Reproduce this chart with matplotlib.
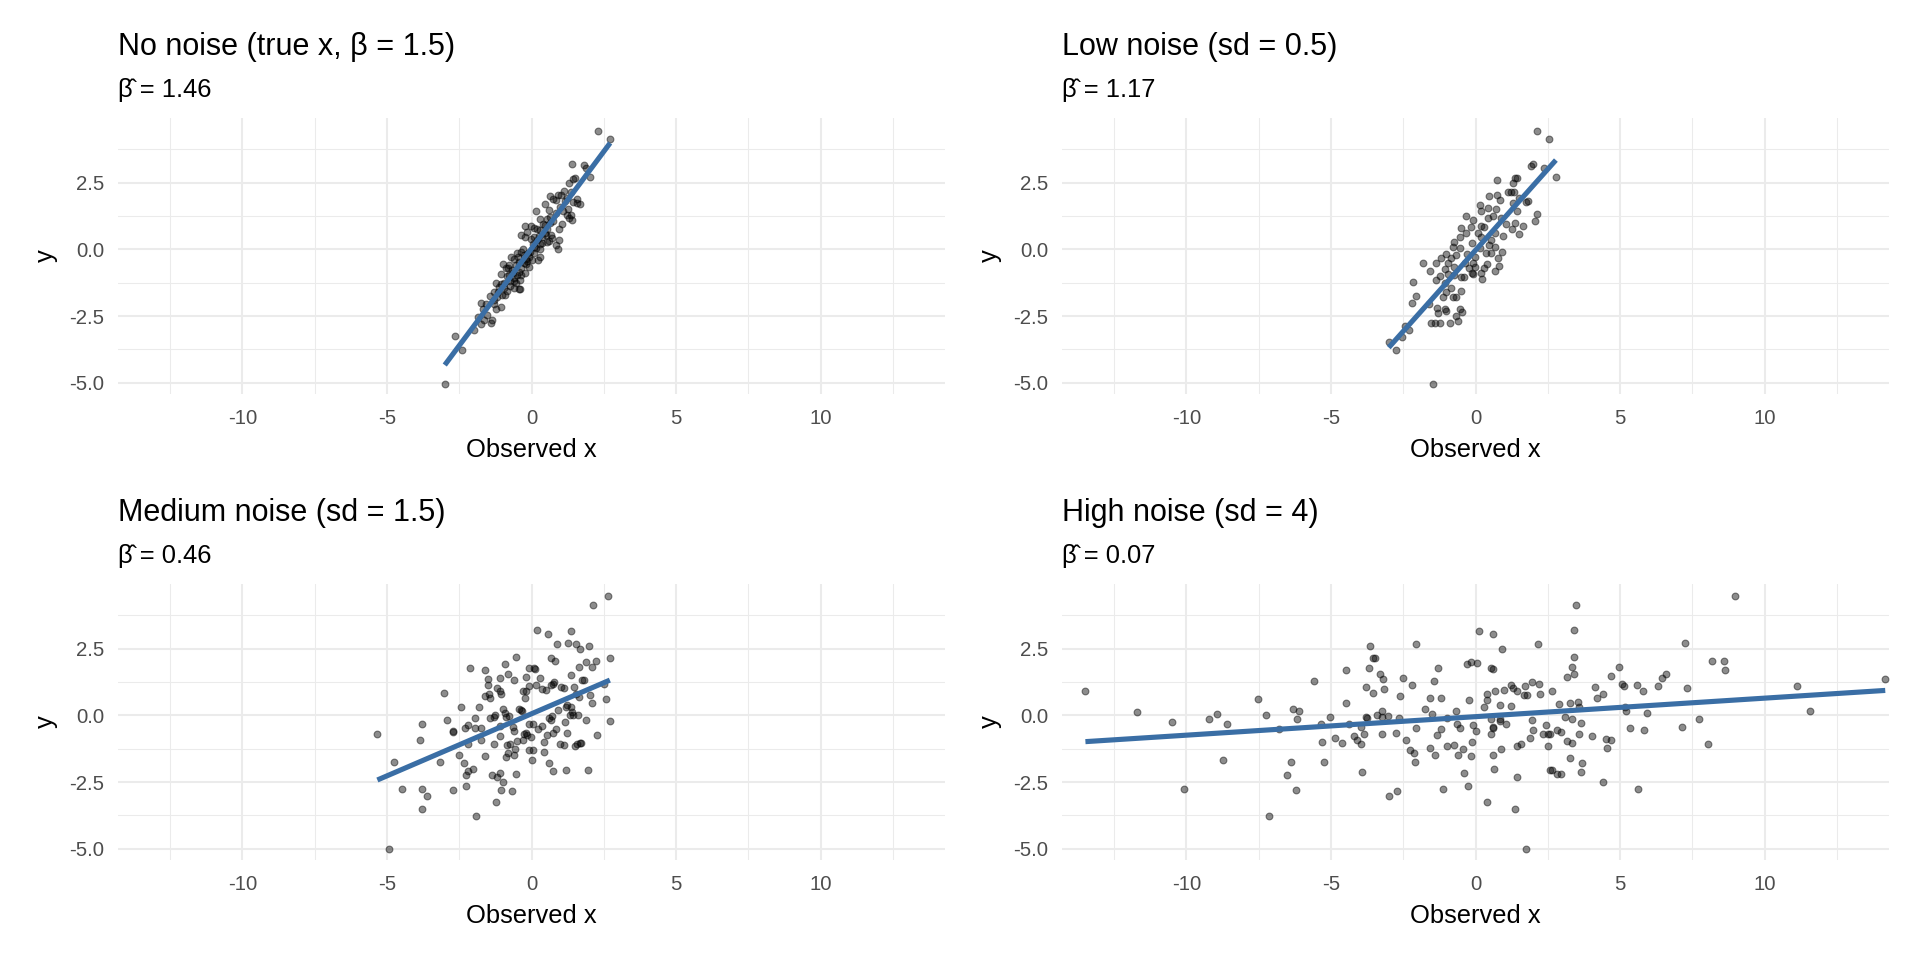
import numpy as np
import matplotlib
matplotlib.use("Agg")
from matplotlib import pyplot as plt
from matplotlib.ticker import MultipleLocator

plt.rcParams['font.family'] = ['Liberation Sans', 'DejaVu Sans']

titles = ["No noise (true x, \u03b2 = 1.5)", "Low noise (sd = 0.5)",
          "Medium noise (sd = 1.5)", "High noise (sd = 4)"]
beta_hat = ["1.46", "1.17", "0.46", "0.07"]

# points, (observed x, y)
pts_none = [
    (2.29, 4.45), (2.72, 4.14), (1.41, 3.2), (1.83, 3.15), (1.89, 3.03), (2.04, 2.7),
    (1.51, 2.69), (1.42, 2.64), (1.29, 2.5), (1.35, 2.16), (1.12, 2.19), (1.03, 2.04),
    (0.90, 2.03), (0.65, 1.98), (0.74, 1.88), (0.83, 1.83), (1.24, 1.93), (1.45, 1.78),
    (1.56, 1.9), (1.69, 1.71), (1.59, 1.73), (0.45, 1.69), (0.15, 1.45), (0.60, 1.49),
    (1.27, 1.5), (1.24, 1.29), (1.35, 1.29), (1.29, 1.16), (1.41, 1.08), (1.05, 0.95),
    (0.31, 1.14), (0.54, 1.13), (0.63, 0.98), (-0.21, 0.89), (-0.03, 0.89), (0.08, 0.79),
    (0.29, 0.73), (0.45, 0.63), (0.66, 0.54), (0.94, 0.35), (0.92, 0.01), (-0.24, 0.48),
    (-0.03, 0.38), (0.20, 0.35), (0.37, 0.23), (0.08, 0.1), (0.31, 0.01), (-0.29, 0.01),
    (-0.50, -0.15), (-0.38, -0.09), (-0.13, -0.15), (0.08, -0.15), (0.22, -0.4), (-0.70, -0.28),
    (-0.61, -0.38), (-0.44, -0.46), (-0.26, -0.53), (-0.09, -0.65), (-1.00, -0.55), (-0.78, -0.59),
    (-0.89, -0.71), (-0.67, -0.78), (-0.44, -0.84), (-0.21, -0.9), (-1.07, -0.93), (-0.78, -0.96),
    (-0.61, -1.09), (-0.40, -1.15), (-1.24, -1.28), (-0.96, -1.28), (-0.73, -1.38), (-0.59, -1.44),
    (-0.41, -1.5), (-1.12, -1.43), (-0.84, -1.55), (-1.01, -1.71), (-1.19, -1.78), (-1.45, -1.75),
    (-1.74, -2.0), (-1.59, -2.05), (-1.30, -2.03), (-1.04, -2.16), (-1.24, -2.24), (-1.67, -2.25),
    (-1.53, -2.46), (-1.36, -2.65), (-1.41, -2.75), (-1.74, -2.81), (-1.99, -3.03), (-2.65, -3.26),
    (-2.42, -3.78), (-3.0, -5.03), (-0.38, 0.54), (-0.15, 0.66), (0.54, 0.29), (0.71, 0.41),
    (0.83, 0.16), (0.31, -0.28), (-0.20, -0.38), (-0.43, -1.49), (-0.52, -1.25), (-1.30, -1.59),
    (-1.84, -2.53), (-1.65, -2.65), (-0.55, -0.6), (-0.45, -0.3), (-0.35, -0.7), (-0.25, -0.2),
    (-0.15, -0.45), (-0.05, -0.1), (0.05, 0.2), (0.15, 0.05), (0.25, 0.5), (0.35, 0.45),
    (0.45, 0.9), (0.55, 0.75), (0.65, 1.2), (0.75, 1.05), (-0.65, -0.9), (-0.75, -1.2),
    (-0.85, -1.0), (-0.95, -1.45), (-1.05, -1.3), (-1.15, -1.6), (-0.35, -0.95), (-0.1, -0.3),
    (0.1, 0.45), (0.3, 0.2), (0.5, 0.55), (0.85, 1.35), (1.0, 1.6), (1.1, 1.45),
    (-0.6, -1.2), (-0.2, -0.55), (0.0, -0.4), (0.2, 0.75), (0.4, 0.95), (-0.5, -0.95),
    (-0.8, -0.7), (-1.3, -1.9), (-0.9, -1.7), (0.6, 0.3), (0.95, 0.75), (1.15, 1.8),
]

pts_low = [
    (2.14, 4.45), (2.53, 4.14), (1.92, 3.14), (2.00, 3.2), (2.36, 3.06), (2.78, 2.7),
    (0.75, 2.6), (1.30, 2.48), (1.35, 2.68), (1.44, 2.69), (1.12, 2.13), (1.23, 2.15),
    (1.32, 2.16), (0.45, 2.01), (0.74, 2.04), (0.83, 1.85), (1.52, 1.94), (1.29, 1.75),
    (1.75, 1.79), (1.83, 1.81), (0.15, 1.66), (0.43, 1.54), (0.71, 1.51), (1.43, 1.44),
    (0.18, 1.44), (2.11, 1.34), (2.06, 1.05), (-0.32, 1.23), (-0.10, 1.1), (0.43, 1.16),
    (0.60, 1.23), (0.89, 1.16), (1.06, 0.94), (1.37, 0.98), (1.63, 0.89), (-0.50, 0.8),
    (-0.17, 0.83), (0.20, 0.88), (1.27, 0.75), (1.50, 0.58), (0.94, 0.5), (-0.55, 0.48),
    (-0.76, 0.26), (0.20, 0.48), (0.54, 0.35), (-0.78, 0.1), (-0.52, 0.04), (-0.12, 0.23),
    (0.14, 0.04), (0.46, 0.16), (0.69, 0.1), (0.91, -0.09), (-1.19, -0.31), (-1.01, -0.18),
    (-0.84, -0.34), (-0.67, -0.21), (-0.29, -0.18), (-0.03, -0.28), (-1.80, -0.5), (-1.36, -0.5),
    (-0.96, -0.53), (-0.75, -0.65), (-0.38, -0.53), (-0.09, -0.53), (0.40, -0.56), (0.77, -0.34),
    (0.80, -0.61), (-1.56, -0.81), (-1.24, -0.99), (-0.96, -0.93), (-0.50, -1.03), (-0.13, -0.9),
    (0.20, -0.88), (0.66, -0.8), (-2.17, -1.21), (-1.38, -1.15), (-1.07, -1.28), (-0.40, -1.03),
    (-0.09, -0.93), (0.23, -1.1), (-0.86, -1.44), (-1.03, -1.59), (-0.78, -1.78), (-0.67, -1.78),
    (-0.50, -1.55), (-2.05, -1.75), (-2.19, -2.0), (-1.61, -2.06), (-1.34, -2.21), (-1.04, -2.24),
    (-1.01, -2.3), (-0.52, -2.23), (-0.47, -2.34), (-0.69, -2.5), (-0.59, -2.68), (-0.88, -2.75),
    (-1.53, -2.75), (-1.39, -2.75), (-1.24, -2.75), (-2.45, -2.86), (-2.30, -3.03), (-2.53, -3.28),
    (-3.0, -3.49), (-2.74, -3.78), (-1.47, -5.03), (0.31, 0.85), (0.66, 0.6), (0.08, 0.6),
    (-0.32, 0.6), (0.37, -0.15), (0.54, -0.15), (-0.01, -0.65), (0.31, -0.71), (-0.21, -0.71),
    (-1.04, -0.75), (-0.73, -0.96), (-1.13, -1.78), (-1.30, -2.4),
]

pts_med = [
    (-5.33, -0.7), (-4.92, -5.0), (-4.75, -1.75), (-4.47, -2.75), (-3.79, -0.31), (-3.87, -0.93),
    (-3.77, -2.75), (-3.63, -3.03), (-3.79, -3.5), (-3.17, -1.73), (-3.02, 0.84), (-2.93, -0.19),
    (-2.72, -0.63), (-2.70, -0.6), (-2.71, -2.78), (-2.51, -1.49), (-2.45, 0.31), (-2.34, -1.78),
    (-2.27, -2.25), (-2.21, -2.1), (-2.28, -2.66), (-2.29, -0.48), (-2.20, -0.38), (-2.18, -1.06),
    (-2.13, 1.78), (-2.02, -2.0), (-1.97, -0.1), (-1.96, -0.48), (-1.91, -3.78), (-1.80, 0.31),
    (-1.75, -0.48), (-1.74, -0.91), (-1.61, -1.53), (-1.60, 1.69), (-1.60, 0.74), (-1.51, 1.36),
    (-1.51, 1.14), (-1.46, 0.8), (-1.42, 0.66), (-1.42, -0.1), (-1.36, -2.23), (-1.31, -0.06),
    (-1.27, 0.0), (-1.30, -1.06), (-1.22, -3.25), (-1.21, 1.03), (-1.18, -2.31), (-1.10, 1.4),
    (-1.09, -2.15), (-1.07, 0.81), (-1.07, -2.78), (-1.10, -0.76), (-1.09, -0.4), (-1.08, 0.91),
    (-0.99, -2.48), (-0.98, 0.24), (-0.92, 1.93), (-0.90, 0.09), (-0.87, -0.06), (-0.86, -1.11),
    (-0.88, -1.56), (-0.80, 1.53), (-0.79, -0.01), (-0.82, -1.41), (-0.73, -1.06), (-0.67, -2.85),
    (-0.63, -0.44), (-0.61, 1.31), (-0.60, -1.49), (-0.59, -0.59), (-0.56, -1.25), (-0.54, -2.19),
    (-0.53, 2.19), (-0.50, -0.96), (-0.43, 0.24), (-0.38, 0.19), (-0.32, 0.16), (-0.30, 0.9),
    (-0.29, -0.94), (-0.25, -0.71), (-0.23, 0.66), (-0.20, 1.44), (-0.18, 0.91), (-0.15, -0.75),
    (-0.10, 1.11), (-0.09, 1.78), (-0.09, -1.29), (-0.07, -0.31), (-0.03, -0.81), (0.02, -1.69),
    (0.05, -1.29), (0.06, -0.34), (0.07, 1.78), (0.13, 1.75), (0.18, 3.21), (0.17, 1.13),
    (0.23, -0.53), (0.29, 1.38), (0.35, 1.0), (0.38, -0.39), (0.43, -1.39), (0.44, -1.0),
    (0.51, 0.94), (0.54, -0.73), (0.57, 3.06), (0.61, -1.78), (0.62, -0.1), (0.66, 2.13),
    (0.66, 1.13), (0.73, 1.16), (0.74, -2.1), (0.75, -0.68), (0.81, 2.03), (0.78, 1.25),
    (0.86, -0.53), (0.89, 2.69), (0.93, 0.19), (0.97, -1.06), (1.01, 1.06), (1.12, 1.03),
    (1.13, -1.11), (1.17, -0.25), (1.20, -2.06), (1.22, -0.68), (1.23, 0.38), (1.26, 2.71),
    (1.32, 0.0), (1.35, 1.5), (1.37, 3.15), (1.41, 0.13), (1.45, 0.0), (1.48, 1.06),
    (1.50, -1.16), (1.54, 2.69), (1.58, -1.09), (1.61, 0.03), (1.64, 1.81), (1.66, -1.03),
    (1.69, 2.5), (1.71, -1.04), (1.76, 1.31), (1.82, 1.31), (1.89, -0.16), (1.90, 2.0),
    (1.95, -2.03), (2.00, 2.61), (2.04, 0.75), (2.09, 1.81), (2.10, 0.48), (2.13, 4.14),
    (2.22, 2.04), (2.25, -0.73), (2.59, 0.63), (2.66, 4.46), (2.70, 2.16), (2.71, -0.21),
    (2.50, 1.19), (1.65, 0.69), (1.55, 0.81), (1.18, 0.31), (1.35, 0.31), (0.66, -0.16),
    (0.72, -0.04), (-0.20, -0.66),
]

pts_high = [
    (-13.49, 0.9), (-11.72, 0.13), (-10.51, -0.26), (-10.08, -2.76), (-9.21, -0.14), (-8.94, 0.05),
    (-8.58, -0.34), (-8.73, -1.69), (-7.52, 0.63), (-7.24, 0.0), (-7.15, -3.78), (-6.81, -0.51),
    (-6.53, -2.25), (-6.39, -1.76), (-6.32, 0.23), (-6.11, 0.18), (-6.16, -0.13), (-6.22, -2.78),
    (-5.60, 1.3), (-5.36, -0.31), (-5.32, -1.0), (-5.23, -1.73), (-5.03, -0.08), (-4.87, -0.84),
    (-4.62, -1.04), (-4.47, 1.68), (-4.47, 0.48), (-4.38, -0.34), (-4.21, -0.78), (-4.10, -0.94),
    (-3.95, -1.09), (-3.97, -0.44), (-3.86, -0.7), (-3.91, -2.11), (-3.80, 1.06), (-3.80, -0.06),
    (-3.76, -0.1), (-3.68, 1.78), (-3.64, 2.6), (-3.53, 2.14), (-3.49, 2.14), (-3.53, 0.83),
    (-3.40, 0.0), (-3.29, 1.54), (-3.19, 1.35), (-3.17, 0.98), (-3.23, 0.16), (-3.23, -0.08),
    (-3.25, -0.71), (-3.01, -0.04), (-3.00, -3.03), (-2.71, -2.85), (-2.74, -0.66), (-2.64, -0.1),
    (-2.62, 0.74), (-2.49, 1.39), (-2.40, -0.91), (-2.26, -1.29), (-2.13, -1.41), (-2.10, -1.76),
    (-2.07, -0.46), (-2.19, 1.14), (-2.06, 2.69), (-1.73, 0.24), (-1.59, 0.66), (-1.50, 0.04),
    (-1.57, -1.21), (-1.41, -1.49), (-1.42, 1.3), (-1.29, 1.76), (-1.32, -0.74), (-1.21, 0.64),
    (-1.18, -0.51), (-1.14, -2.75), (-1.00, -0.09), (-1.00, -1.16), (-0.76, -1.11), (-0.67, 0.18),
    (-0.63, -0.34), (-0.54, -0.49), (-0.60, -1.49), (-0.44, -1.28), (-0.39, -2.15), (-0.25, -2.66),
    (-0.21, 0.58), (-0.30, 1.93), (-0.15, 2.0), (-0.08, -0.38), (-0.13, -1.01), (-0.16, -1.53),
    (0.0, -0.6), (0.05, 1.96), (0.12, 3.15), (0.61, 3.06), (0.93, 2.5), (2.15, 2.68),
    (3.46, 4.15), (3.41, 3.2), (3.41, 2.19), (3.33, 1.81), (3.39, 1.53), (3.18, 1.44),
    (0.54, 1.78), (0.61, 1.75), (0.40, 0.8), (0.40, 0.56), (0.31, 0.31), (0.69, 0.91),
    (0.98, 0.96), (1.23, 1.15), (1.30, 1.04), (1.42, 0.93), (0.83, 0.38), (1.22, 0.35),
    (1.71, 1.08), (1.66, 0.78), (1.77, 0.78), (1.96, 1.24), (2.21, 1.19), (2.22, 0.81),
    (2.65, 0.91), (2.88, 0.41), (3.26, 0.48), (3.55, 0.5), (3.57, 0.31), (3.10, -0.06),
    (3.33, -0.15), (3.64, -0.29), (1.94, -0.18), (1.98, -0.56), (0.52, -0.13), (0.84, -0.13),
    (0.85, -0.21), (1.04, -0.34), (0.61, -0.45), (0.60, -0.49), (0.55, -0.69), (0.60, -1.49),
    (0.65, -2.0), (0.88, -1.26), (1.44, -1.15), (1.59, -1.06), (1.89, -0.86), (2.33, -0.69),
    (2.44, -0.38), (2.51, -0.7), (2.56, -0.69), (2.49, -1.15), (2.81, -0.55), (2.96, -0.64),
    (3.16, -0.95), (3.35, -1.05), (3.58, -0.69), (3.26, -1.58), (3.68, -1.78), (3.65, -2.11),
    (2.58, -2.04), (2.64, -2.06), (2.81, -2.2), (2.95, -2.21), (1.43, -2.31), (0.39, -3.25),
    (1.37, -3.5), (1.76, -5.0), (4.03, -0.79), (4.50, -0.88), (4.67, -0.94), (4.54, -1.24),
    (4.42, -2.48), (4.12, 1.06), (4.19, 0.65), (4.41, 0.8), (4.68, 1.48), (4.97, 1.8),
    (5.06, 1.16), (5.15, 1.1), (5.18, 0.31), (5.22, 0.18), (5.36, -0.49), (5.60, 1.15),
    (5.79, 0.91), (5.92, 0.08), (5.84, -0.54), (5.63, -2.75), (6.30, 1.11), (6.44, 1.38),
    (6.58, 1.53), (7.15, -0.44), (7.26, 2.71), (7.33, 1.01), (7.72, -0.14), (8.04, -1.06),
    (8.17, 2.04), (8.61, 2.03), (8.62, 1.71), (8.97, 4.46), (11.12, 1.1), (11.57, 0.18),
    (14.17, 1.35),
]

panels = [pts_none, pts_low, pts_med, pts_high]

W, H = 1920, 960
fig = plt.figure(figsize=(19.2, 9.6), dpi=100)

# axes boxes in pixels: left, top, width, height
boxes = [(118, 118, 827, 276), (1062, 118, 827, 276),
         (118, 584, 827, 276), (1062, 584, 827, 276)]

line_col = '#3a6ea5'
grid_col = '#ebebeb'

for i, pts in enumerate(panels):
    l, t, w, h = boxes[i]
    ax = fig.add_axes([l / W, 1 - (t + h) / H, w / W, h / H])
    x, y = np.array(pts).T

    ax.scatter(x, y, s=24, color='black', alpha=0.45, linewidths=0.8, zorder=3)

    # lm fit, drawn over the range of the data
    b, a = np.polyfit(x, y, 1)
    xs = np.array([x.min(), x.max()])
    ax.plot(xs, a + b * xs, color=line_col, lw=3.7, zorder=4, solid_capstyle='butt')

    ax.set_xlim(-14.3, 14.3)
    ax.set_ylim(-5.42, 4.92)
    ax.xaxis.set_minor_locator(MultipleLocator(2.5))
    ax.yaxis.set_minor_locator(MultipleLocator(1.25))
    ax.set_xticks([-10, -5, 0, 5, 10])
    ax.set_xticklabels(['-10', '-5', '0', '5', '10'])
    ax.set_yticks([-5, -2.5, 0, 2.5])
    ax.set_yticklabels(['-5.0', '-2.5', '0.0', '2.5'])
    ax.grid(which='major', color=grid_col, lw=1.5, zorder=0)
    ax.grid(which='minor', color=grid_col, lw=0.75, zorder=0)
    ax.set_axisbelow(True)
    for s in ax.spines.values():
        s.set_visible(False)
    ax.tick_params(which='both', length=0, labelsize=14.7, labelcolor='#4d4d4d')
    ax.tick_params(axis='x', pad=11)
    ax.tick_params(axis='y', pad=10)

    ax.set_xlabel('Observed x', fontsize=18.4, labelpad=7)
    ax.set_ylabel('y', fontsize=18.4, labelpad=8)

    ax.text(0, 1 + 63 / h, titles[i], transform=ax.transAxes, fontsize=22,
            ha='left', va='baseline')
    ax.text(0, 1 + 21 / h, '\u03b2\u0302 = ' + beta_hat[i], transform=ax.transAxes,
            fontsize=18.4, ha='left', va='baseline')

fig.savefig('out.png', dpi=100, facecolor='white')
